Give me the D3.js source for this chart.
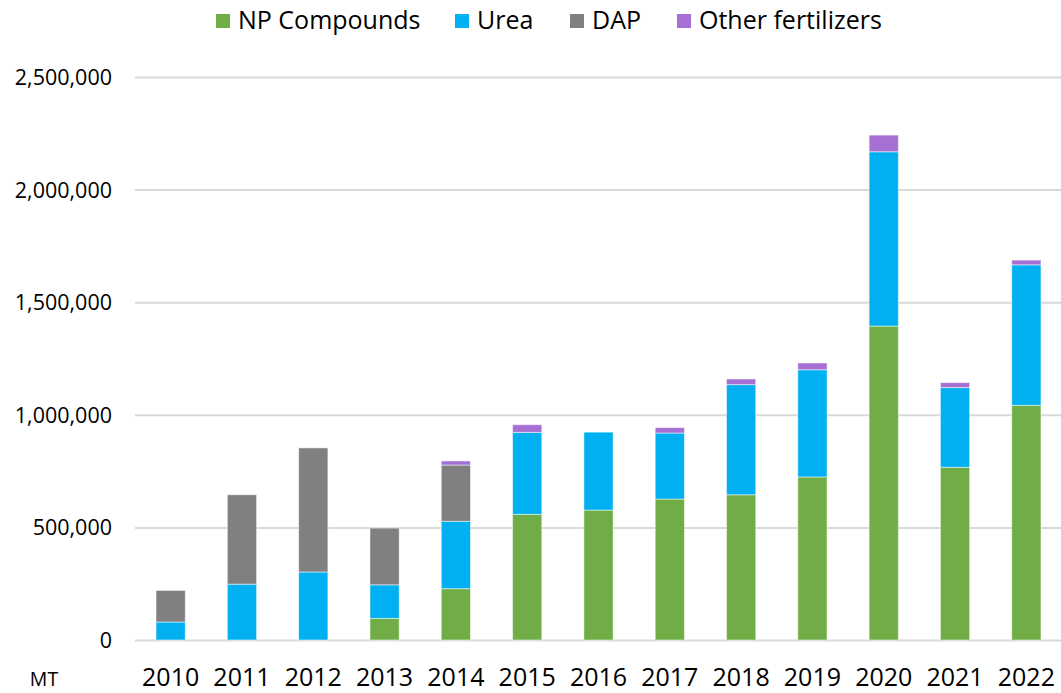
<!DOCTYPE html>
<html>
<head>
<meta charset="utf-8">
<script src="https://cdn.jsdelivr.net/npm/d3@7"></script>
<style>
    body { margin: 0; background: #fff; }
    text { font-family: "Open Sans", sans-serif; fill: #000; }
</style>
</head>
<body>
<svg id="chart" width="1061" height="693"></svg>
<script>
const years = ["2010", "2011", "2012", "2013", "2014", "2015", "2016", "2017", "2018", "2019", "2020", "2021", "2022"];
const npCompounds = [0, 0, 0, 96000, 228000, 558000, 577000, 626000, 645000, 724000, 1394000, 767000, 1042000];
const urea = [80000, 248000, 302000, 149000, 299000, 364000, 346000, 293000, 489000, 476000, 774000, 354000, 624000];
const dap = [140000, 397000, 551000, 252000, 250000, 0, 0, 0, 0, 0, 0, 0, 0];
const otherFertilizers = [0, 0, 0, 0, 18000, 34000, 0, 24000, 25000, 30000, 74000, 22000, 21000];
const yTicks = [0, 500000, 1000000, 1500000, 2000000, 2500000];

const seriesNames = ["NP Compounds", "Urea", "DAP", "Other fertilizers"];
const seriesValues = [npCompounds, urea, dap, otherFertilizers];
const colors = ["#70ad47", "#00b0f0", "#808080", "#a66fd3"];

const rows = years.map((yr, i) => {
    const r = {year: yr};
    seriesNames.forEach((s, j) => r[s] = seriesValues[j][i]);
    return r;
});

const svg = d3.select("#chart"),
    margin = {top: 77, right: 0, bottom: 53, left: 135},
    width = +svg.attr("width"),
    height = +svg.attr("height");

const x = d3.scaleBand()
    .domain(years)
    .range([margin.left, 1062])
    .paddingInner(0.59)
    .paddingOuter(0.295);

const y = d3.scaleLinear()
    .domain([0, 2500000])
    .range([height - margin.bottom, margin.top]);

const z = d3.scaleOrdinal(seriesNames, colors);

// grid + y labels
const yAxis = svg.append("g")
    .attr("class", "y-axis")
    .attr("transform", "translate(" + margin.left + ",0)")
    .call(d3.axisLeft(y).tickValues(yTicks).tickFormat(d3.format(",")).tickSize(-(width - margin.left)).tickPadding(23));
yAxis.select(".domain").remove();
yAxis.selectAll(".tick line").attr("stroke", "#d9d9d9").attr("stroke-width", 2);
yAxis.selectAll(".tick text").attr("font-size", 21.5).attr("dy", "0.35em");

const stacked = d3.stack().keys(seriesNames)(rows);

svg.append("g").selectAll("g")
    .data(stacked)
    .join("g")
    .attr("fill", d => z(d.key))
    .selectAll("rect")
    .data(d => d.filter(p => p[1] - p[0] > 0))
    .join("rect")
    .attr("x", d => x(d.data.year))
    .attr("width", x.bandwidth())
    .attr("y", d => y(d[1]))
    .attr("height", d => y(d[0]) - y(d[1]))
    .attr("stroke", "#fff")
    .attr("stroke-opacity", 0.5)
    .attr("stroke-width", 1);

// x labels
const xAxis = svg.append("g")
    .attr("class", "x-axis")
    .attr("transform", "translate(0," + (height - margin.bottom) + ")")
    .call(d3.axisBottom(x).tickSize(0).tickPadding(28));
xAxis.select(".domain").remove();
xAxis.selectAll(".tick text").attr("font-size", 25);

svg.append("text")
    .attr("x", 44)
    .attr("y", 686)
    .attr("text-anchor", "middle")
    .attr("font-size", 19.5)
    .text("MT");

// legend
const legendX = [216, 455, 570, 677];
const legend = svg.append("g").attr("class", "legend");
const item = legend.selectAll("g")
    .data(seriesNames)
    .join("g")
    .attr("transform", (d, i) => "translate(" + legendX[i] + ",0)");
item.append("rect")
    .attr("y", 14)
    .attr("width", 14)
    .attr("height", 14)
    .attr("fill", d => z(d));
item.append("text")
    .attr("x", 22)
    .attr("y", 29)
    .attr("font-size", 25)
    .text(d => d);
</script>
</body>
</html>
